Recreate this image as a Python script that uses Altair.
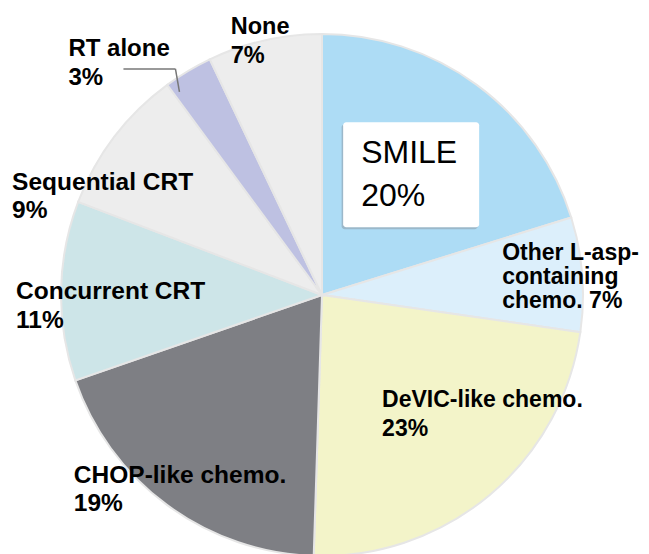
import altair as alt
import pandas as pd

# ---- data ----
CATEGORIES = ["SMILE", "Other L-asp-containing chemo.", "DeVIC-like chemo.",
              "CHOP-like chemo.", "Concurrent CRT", "Sequential CRT",
              "RT alone", "None"]
VALUES = [20, 7, 23, 19, 11, 9, 3, 7]
LABELS = ["SMILE\n20%", "Other L-asp-\ncontaining\nchemo. 7%",
          "DeVIC-like chemo.\n23%", "CHOP-like chemo.\n19%",
          "Concurrent CRT\n11%", "Sequential CRT\n9%", "RT alone\n3%",
          "None\n7%"]
COLORS = ["#ADDCF5", "#DCEFFB", "#F3F4C9", "#7E7F84", "#CDE5E8", "#EDEDED",
          "#BEC1E2", "#EDEDED"]

df = pd.DataFrame({
    "category": CATEGORIES,
    "value": VALUES,
    "label": LABELS,
    "order": list(range(len(CATEGORIES))),
})

# ---- layout / style ----
W, H = 633, 546
CX, CY, R = 314, 287, 261
FONT = "Liberation Sans"

# label offsets (pixels) from each slice's outer mid-point
LABEL_STYLE = {
    "SMILE": dict(dx=-115, dy=77, fontSize=32, fontWeight="normal", lineHeight=43),
    "Other L-asp-containing chemo.": dict(dx=-79, dy=-14, fontSize=23, fontWeight="bold", lineHeight=24),
    "DeVIC-like chemo.": dict(dx=-107, dy=-87, fontSize=23, fontWeight="bold", lineHeight=29),
    "CHOP-like chemo.": dict(dx=-94, dy=-21, fontSize=24.5, fontWeight="bold", lineHeight=28),
    "Concurrent CRT": dict(dx=-46, dy=8, fontSize=24.5, fontWeight="bold", lineHeight=29),
    "Sequential CRT": dict(dx=-103, dy=52, fontSize=24.5, fontWeight="bold", lineHeight=28),
    "RT alone": dict(dx=-120, dy=-16, fontSize=24, fontWeight="bold", lineHeight=29),
    "None": dict(dx=-34, dy=-7, fontSize=23.5, fontWeight="bold", lineHeight=29),
}

base = (
    alt.Chart(df)
    .transform_joinaggregate(total="sum(value)")
    .transform_window(cum="sum(value)", sort=[alt.SortField("order")], frame=[None, 0])
    .transform_calculate(
        ang="(datum.cum - datum.value / 2) / datum.total * 2 * PI",
    )
    .transform_calculate(
        px=f"{CX} + {R - 1} * sin(datum.ang)",
        py=f"{CY} - {R - 1} * cos(datum.ang)",
    )
)

pie = alt.Chart(df).mark_arc(radius=R, stroke="#E6E6E6", strokeWidth=2).encode(
    theta=alt.Theta("value:Q", stack=True),
    color=alt.Color("category:N", scale=alt.Scale(domain=CATEGORIES, range=COLORS), legend=None),
    order=alt.Order("order:Q"),
    x=alt.value(CX),
    y=alt.value(CY),
)

XS = dict(scale=None, axis=None)

smile = base.transform_filter(alt.datum.category == "SMILE")
shadow = smile.transform_calculate(
    bx1="datum.px - 134.5", bx2="datum.px + 1.5",
    by1="datum.py + 38.5", by2="datum.py + 143.5",
).mark_rect(fill="#8D9BA6", opacity=0.55, cornerRadius=3).encode(
    x=alt.X("bx1:Q", **XS), x2="bx2:Q", y=alt.Y("by1:Q", **XS), y2="by2:Q")
box = smile.transform_calculate(
    bx1="datum.px - 133", bx2="datum.px + 3",
    by1="datum.py + 36.5", by2="datum.py + 141.5",
).mark_rect(fill="white", cornerRadius=3).encode(
    x=alt.X("bx1:Q", **XS), x2="bx2:Q", y=alt.Y("by1:Q", **XS), y2="by2:Q")

rt = base.transform_filter(alt.datum.category == "RT alone").transform_calculate(
    lx1="datum.px - 65", lx2="datum.px - 13", ly="datum.py - 3",
    ex="datum.px - 9", ey="datum.py + 20",
)
lead1 = rt.mark_rule(color="#777777", strokeWidth=1.5).encode(
    x=alt.X("lx1:Q", **XS), x2="lx2:Q", y=alt.Y("ly:Q", **XS), y2="ly:Q")
lead2 = rt.mark_rule(color="#777777", strokeWidth=1.5).encode(
    x=alt.X("lx2:Q", **XS), x2="ex:Q", y=alt.Y("ly:Q", **XS), y2="ey:Q")

texts = []
for cat in CATEGORIES:
    st = LABEL_STYLE[cat]
    texts.append(
        base.transform_filter(alt.datum.category == cat)
        .mark_text(align="left", baseline="alphabetic", font=FONT,
                   fontSize=st["fontSize"], fontWeight=st["fontWeight"],
                   lineHeight=st["lineHeight"], lineBreak="\n",
                   dx=st["dx"], dy=st["dy"], color="#000000")
        .encode(x=alt.X("px:Q", **XS), y=alt.Y("py:Q", **XS), text="label:N")
    )

chart = (
    alt.layer(pie, shadow, box, lead1, lead2, *texts)
    .properties(width=W, height=H, autosize=alt.AutoSizeParams(type="none"), padding=0,
                background="white")
    .configure_view(stroke=None)
)

chart.save("out.html", embed_options={"renderer": "svg", "actions": False})
